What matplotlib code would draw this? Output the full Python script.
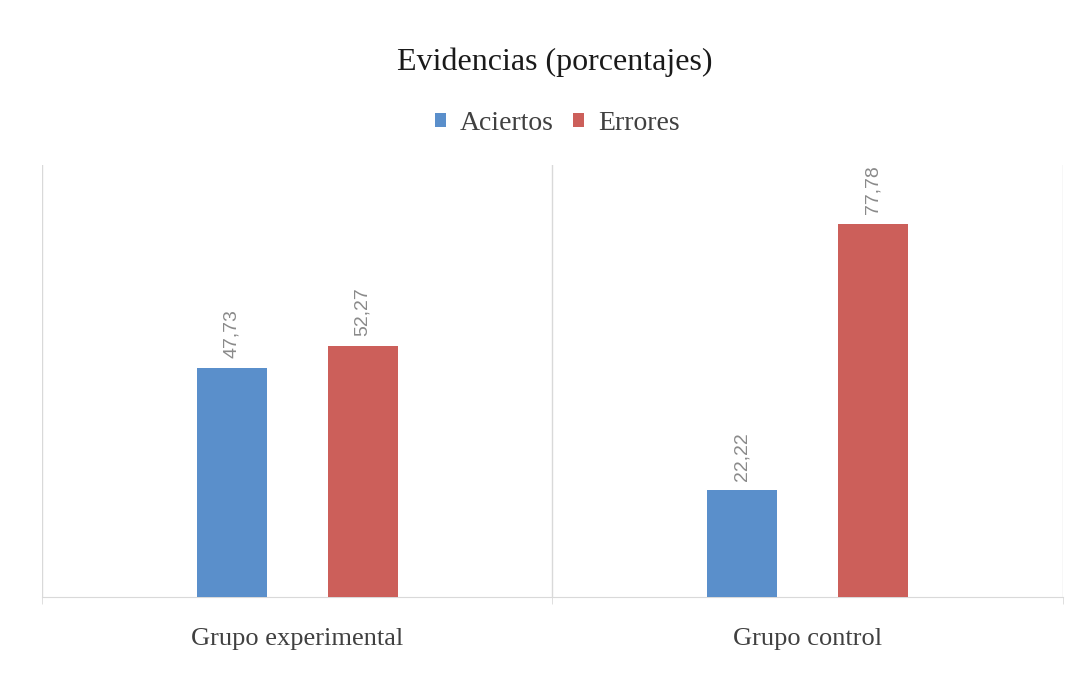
import matplotlib.pyplot as plt
import numpy as np

grupos = ["Grupo experimental", "Grupo control"]
series = ["Aciertos", "Errores"]
aciertos = [47.73, 22.22]
errores = [52.27, 77.78]

plt.rcParams['font.family'] = ['Liberation Serif', 'DejaVu Serif']

colores = ["#5A8FCB", "#CC5F5A"]
x = np.arange(len(grupos))
ancho = 0.137
desp = 0.128

fig = plt.figure(figsize=(10.82, 6.76), dpi=100)
ax = fig.add_axes([0.0388, 0.1169, 0.9436, 0.6391])

for i, (nombre, vals) in enumerate(zip(series, [aciertos, errores])):
    pos = x + (desp if i else -desp)
    bars = ax.bar(pos, vals, ancho, color=colores[i], label=nombre, zorder=3)
    for b, v in zip(bars, vals):
        ax.annotate(f"{v:.2f}".replace(".", ","), (b.get_x() + b.get_width() / 2, v),
                    xytext=(0, 7), textcoords="offset points", rotation=90,
                    ha="center", va="bottom", fontsize=14, color="#8a8a8a",
                    family="Liberation Sans")

ax.set_xlim(-0.5, 1.5)
ax.set_ylim(0, 90)
ax.set_yticks([])
ax.set_xticks(x)
ax.set_xticklabels(grupos, fontsize=19, color="#404040")
ax.tick_params(axis="x", which="major", length=0, pad=22)
ax.set_xticks([-0.5, 0.5, 1.5], minor=True)
ax.tick_params(axis="x", which="minor", length=5, color="#D9D9D9")
for xv in [-0.5, 0.5, 1.5]:
    ax.axvline(xv, color="#D9D9D9", lw=1, zorder=1)
for s in ["top", "right", "left"]:
    ax.spines[s].set_visible(False)
ax.spines["bottom"].set_color("#D9D9D9")

fig.text(0.513, 0.908, "Evidencias (porcentajes)", ha="center", va="center", fontsize=23, color="#1a1a1a")
fig.legend(loc="center", bbox_to_anchor=(0.515, 0.818), ncol=2, frameon=False, fontsize=20,
           handlelength=0.4, handleheight=0.4, handletextpad=0.5, columnspacing=0.7,
           labelcolor="#404040")

fig.savefig("out.png", dpi=100)
